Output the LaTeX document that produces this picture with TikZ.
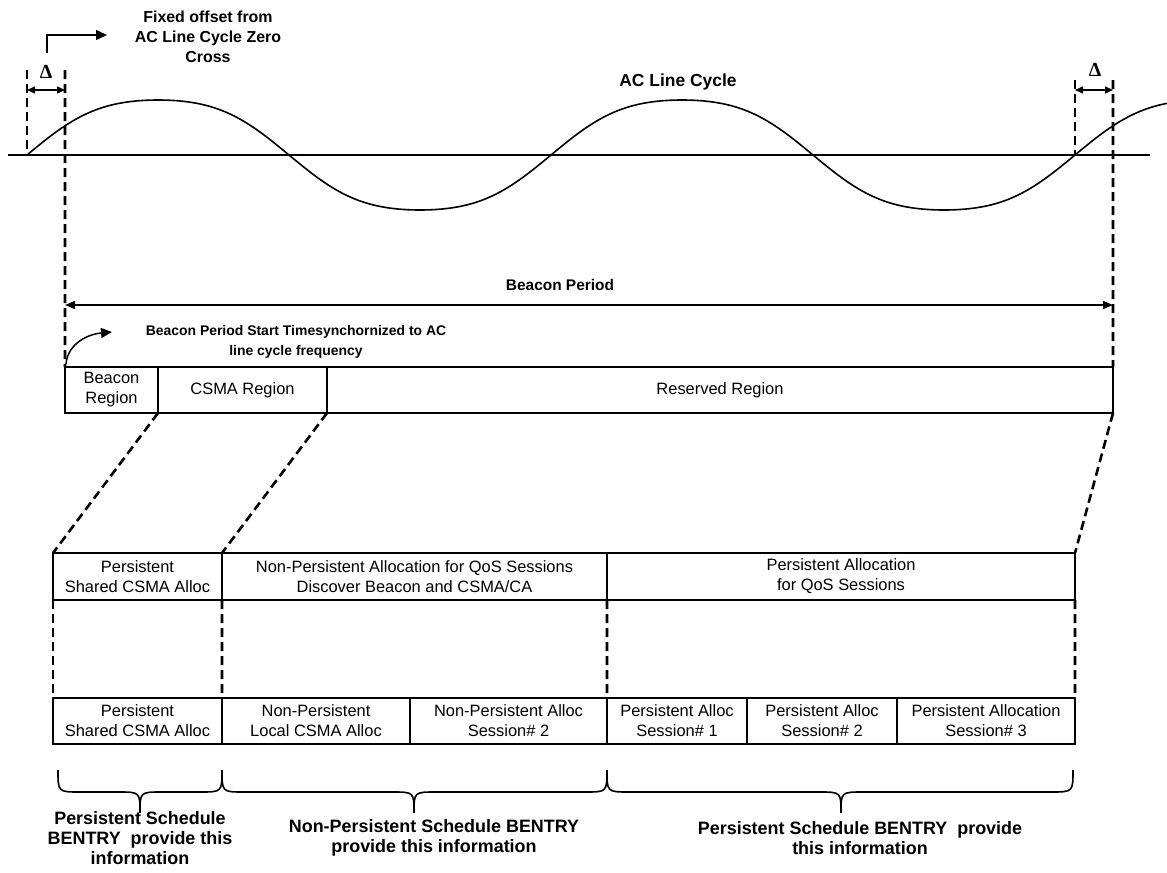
\documentclass[tikz,border=0pt]{standalone}
\usepackage{fontspec}
\setmainfont{Liberation Sans}
\newfontfamily\seriffont{Liberation Serif}
\usetikzlibrary{arrows.meta,calc}
\begin{document}
\begin{tikzpicture}[x=1bp,y=-1bp,
  cell/.style={draw, line width=1.5bp, inner sep=0pt, outer sep=0pt, align=center, font=\fontsize{16.5}{20}\selectfont},
  dsh/.style={line width=2.6bp, dash pattern=on 9bp off 5bp},
  lbl/.style={inner sep=0pt, align=center, font=\bfseries\fontsize{15.5}{20}\selectfont},
  biglbl/.style={inner sep=0pt, align=center, font=\bfseries\fontsize{18}{20}\selectfont},
  thinline/.style={line width=1.5bp},
  onetip/.style={-{Triangle[length=11bp,width=10bp]}},
  twotip/.style={{Triangle[length=10bp,width=8bp]}-{Triangle[length=10bp,width=8bp]}},
  smalltwotip/.style={{Triangle[length=8bp,width=7bp]}-{Triangle[length=8bp,width=7bp]}},
]
\useasboundingbox (0,0) rectangle (1167,873);

% AC line cycle
\draw[thinline] (8,155) -- (1150,155);
\draw[line width=1.6bp] plot[domain=27:1167, samples=300, smooth]
  (\x, {155 - 55*(sin((\x-27)/262*180) + 0.06*sin(3*(\x-27)/262*180))/0.94});

% boxes: top row
\node[cell, minimum width=93bp, minimum height=46bp] (br) at (111.5,390) {Beacon\\Region};
\node[cell, minimum width=169bp, minimum height=46bp] (cr) at (242.5,390) {CSMA Region};
\node[cell, minimum width=786bp, minimum height=46bp] (rr) at (720,390) {Reserved Region};

% middle row
\node[cell, minimum width=169bp, minimum height=47bp] (m1) at (137.5,576.5) {Persistent\\Shared CSMA Alloc};
\node[cell, minimum width=385bp, minimum height=47bp] (m2) at (414.5,576.5) {Non-Persistent Allocation for QoS Sessions\\Discover Beacon and CSMA/CA};
\node[cell, minimum width=468bp, minimum height=47bp] (m3) at (841,576.5) {Persistent Allocation\\for QoS Sessions};

% bottom row
\node[cell, minimum width=169bp, minimum height=46bp] (b1) at (137.5,721) {Persistent\\Shared CSMA Alloc};
\node[cell, minimum width=188bp, minimum height=46bp] (b2) at (316,721) {Non-Persistent\\Local CSMA Alloc};
\node[cell, minimum width=197bp, minimum height=46bp] (b3) at (508.5,721) {Non-Persistent Alloc\\Session\# 2};
\node[cell, minimum width=140bp, minimum height=46bp] (b4) at (677,721) {Persistent Alloc\\Session\# 1};
\node[cell, minimum width=150bp, minimum height=46bp] (b5) at (822,721) {Persistent Alloc\\Session\# 2};
\node[cell, minimum width=178bp, minimum height=46bp] (b6) at (986,721) {Persistent Allocation\\Session\# 3};

% reference coordinates
\coordinate (zl) at (27,155);
\coordinate (zlt) at (27,70);
\coordinate (sl) at (65,70);
\coordinate (zr) at (1075,155);
\coordinate (zrt) at (1075,80);
\coordinate (sr) at (1113,80);
\coordinate (dla) at (27,90);
\coordinate (dlb) at (65,90);
\coordinate (dra) at (1075,90);
\coordinate (drb) at (1113,90);
\coordinate (fa) at (47,53);
\coordinate (fb) at (107,35);
\coordinate (bpa) at (65,305);
\coordinate (bpb) at (1113,305);
\coordinate (cs) at (66,364);
\coordinate (ce) at (112,332);

% dashed guides
\draw[dsh] (zlt) -- (zl);
\draw[dsh] (sl) -- (br.north west);
\draw[dsh] (zrt) -- (zr);
\draw[dsh] (sr) -- (rr.north east);

% delta arrows
\draw[thinline, smalltwotip] (dla) -- (dlb);
\draw[thinline, smalltwotip] (dra) -- (drb);
\node[inner sep=0pt, font=\seriffont\bfseries\fontsize{20}{20}\selectfont] (dl) at (46,72) {Δ};
\node[inner sep=0pt, font=\seriffont\bfseries\fontsize{20}{20}\selectfont] (dr) at (1095,70) {Δ};

% fixed offset
\draw[thinline, onetip] (fa) |- (fb);
\node[lbl, font=\bfseries\fontsize{16}{20}\selectfont] (fo) at (208,37) {Fixed offset from\\AC Line Cycle Zero\\Cross};
\node[lbl, font=\bfseries\fontsize{17.5}{20}\selectfont] (acl) at (678,82) {AC Line Cycle};

% beacon period
\draw[thinline, twotip] (bpa) -- (bpb);
\node[lbl] (bpl) at (560,285) {Beacon Period};
\draw[thinline, onetip] (cs) to[out=85,in=185] (ce);
\node[lbl, font=\bfseries\fontsize{14}{20}\selectfont] (bps) at (296,342) {Beacon Period Start Timesynchornized to AC\\line cycle frequency};

% zoom connectors
\draw[dsh] (br.south east) -- (m1.north west);
\draw[dsh] (cr.south east) -- (m2.north west);
\draw[dsh] (rr.south east) -- (m3.north east);
\draw[dsh] (m1.south west) -- (b1.north west);
\draw[dsh] (m2.south west) -- (b2.north west);
\draw[dsh] (m3.south west) -- (b4.north west);
\draw[dsh] (m3.south east) -- (b6.north east);

% braces
\draw[line width=1.6bp] (58,770) .. controls (58,792) .. (80,792) -- (118,792) .. controls (140,792) .. (140,813)
  .. controls (140,792) .. (162,792) -- (200,792) .. controls (222,792) .. (222,770);
\draw[line width=1.6bp] (222,770) .. controls (222,792) .. (244,792) -- (392,792) .. controls (414,792) .. (414,813)
  .. controls (414,792) .. (436,792) -- (585,792) .. controls (607,792) .. (607,770);
\draw[line width=1.6bp] (607,770) .. controls (607,792) .. (629,792) -- (819,792) .. controls (841,792) .. (841,813)
  .. controls (841,792) .. (863,792) -- (1051,792) .. controls (1073,792) .. (1073,770);

\node[biglbl] (t1) at (140,838) {Persistent Schedule\\BENTRY\ \ provide this\\information};
\node[biglbl] (t2) at (434,838) {Non-Persistent Schedule BENTRY\\provide this information};
\node[biglbl] (t3) at (860,838) {Persistent Schedule BENTRY\ \ provide\\this information};
\end{tikzpicture}
\end{document}
